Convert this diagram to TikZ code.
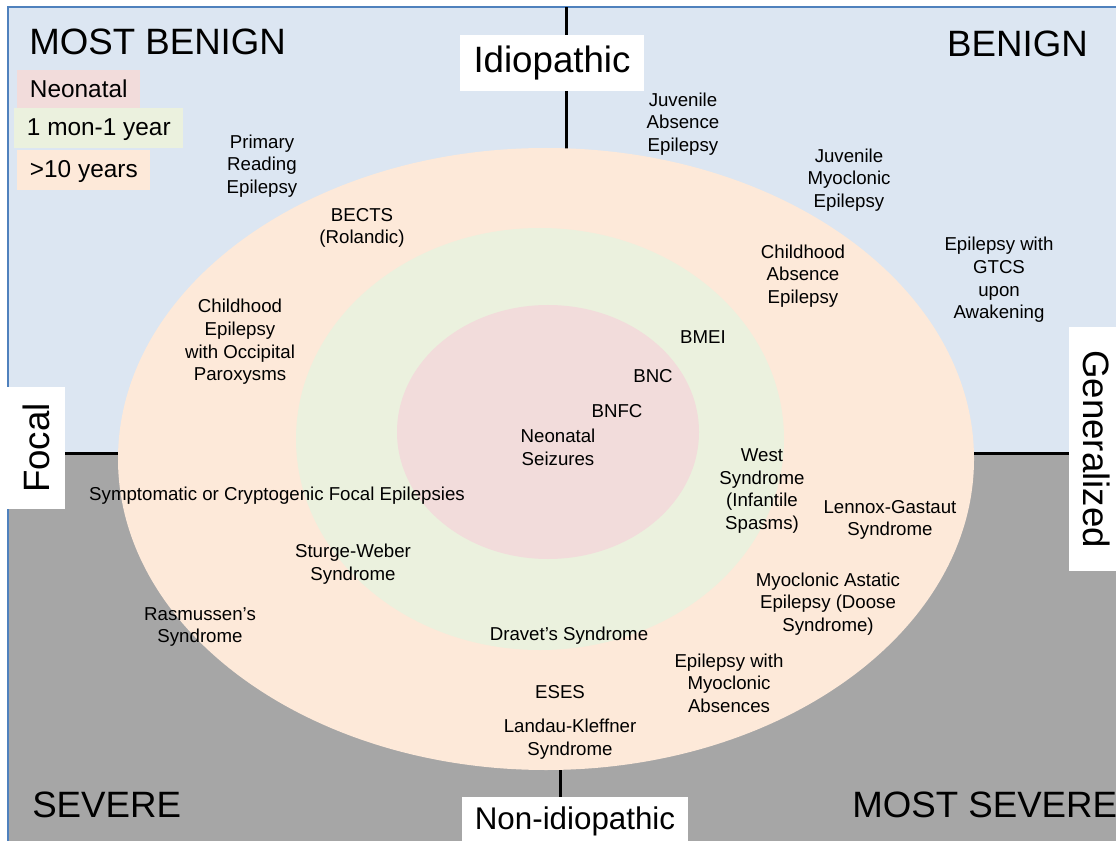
\documentclass[tikz,border=0pt]{standalone}
\usepackage{fontspec}
\setmainfont{Liberation Sans}
\usetikzlibrary{positioning}

\definecolor{benignblue}{HTML}{DCE6F2}
\definecolor{severegray}{HTML}{A6A6A6}
\definecolor{frameblue}{HTML}{4F81BD}
\definecolor{neopink}{HTML}{F2DCDB}
\definecolor{infgreen}{HTML}{EBF1DE}
\definecolor{oldpeach}{HTML}{FDE9D9}

\begin{document}
\begin{tikzpicture}[x=0.75pt,y=-0.75pt,
  bigtext/.style={font=\fontsize{27.5}{32}\selectfont,inner sep=0pt},
  axisbox/.style={bigtext,fill=white},
  agebox/.style={font=\fontsize{18.3}{22}\selectfont,anchor=north west,inner xsep=9.5pt,inner ysep=0pt,minimum height=30pt,text depth=2pt},
  syndrome/.style={font=\fontsize{14}{17}\selectfont,align=center,inner sep=0pt},
  divider/.style={line width=2.25pt,black}]
\useasboundingbox (0,0) rectangle (1116,841);

% quadrants
\fill[benignblue] (8,7) rectangle (1116,453);
\fill[severegray] (8,453) rectangle (1116,841);
\draw[frameblue,line width=1.5pt] (8,841) -- (8,7) -- (1116,7);

% axes
\coordinate (top) at (566,7);
\coordinate (mid top) at (566,200);
\coordinate (mid bottom) at (560,700);
\coordinate (bottom) at (560,841);
\coordinate (left) at (8,453);
\coordinate (right) at (1116,453);
\draw[divider] (top) -- (mid top);
\draw[divider] (mid bottom) -- (bottom);
\draw[divider] (left) -- (right);

% age rings
\fill[oldpeach] (546,459) ellipse [x radius=428, y radius=311];
\fill[infgreen] (540,439) ellipse [x radius=244, y radius=211];
\fill[neopink] (548,432) ellipse [x radius=151, y radius=127];

% corner labels
\node[bigtext,anchor=base west] (mostbenign) at (29,55) {MOST BENIGN};
\node[bigtext,anchor=base east] (benign) at (1088,57) {BENIGN};
\node[bigtext,anchor=base west] (severe) at (32,817) {SEVERE};
\node[bigtext,anchor=base west] (mostsevere) at (852,817) {MOST SEVERE};

% axis labels
\node[axisbox,minimum width=138pt,minimum height=42pt] (idio) at (552,63) {Idiopathic};
\node[axisbox,font=\fontsize{23.5}{28}\selectfont,minimum width=169pt,minimum height=36pt] (nonidio) at (575,821) {Non-idiopathic};
\node[axisbox,rotate=90,minimum width=91.5pt,minimum height=43.5pt] (focal) at (36,448) {Focal};
\node[axisbox,rotate=-90,minimum width=183pt,minimum height=42pt] (gen) at (1097,449) {Generalized};

% legend
\node[agebox,fill=neopink] (legneo) at (17,70) {Neonatal};
\node[agebox,fill=infgreen] (leginf) at (14,108) {1 mon-1 year};
\node[agebox,fill=oldpeach] (legold) at (17,150) {>10 years};

% syndromes
\node[syndrome] (pre) at (262,166) {Primary\\Reading\\Epilepsy};
\node[syndrome] (jae) at (683,124) {Juvenile\\Absence\\Epilepsy};
\node[syndrome] (jme) at (849,180) {Juvenile\\Myoclonic\\Epilepsy};
\node[syndrome] (gtcs) at (999,280) {Epilepsy with\\GTCS\\upon\\Awakening};
\node[syndrome] (bects) at (362,228) {BECTS\\(Rolandic)};
\node[syndrome] (cae) at (803,276) {Childhood\\Absence\\Epilepsy};
\node[syndrome] (ceop) at (240,342) {Childhood\\Epilepsy\\with Occipital\\Paroxysms};
\node[syndrome] (bmei) at (703,337) {BMEI};
\node[syndrome] (bnc) at (653,376) {BNC};
\node[syndrome] (bnfc) at (617,411) {BNFC};
\node[syndrome] (neo) at (558,447) {Neonatal\\Seizures};
\node[syndrome] (west) at (762,491) {West\\Syndrome\\(Infantile\\Spasms)};
\node[syndrome] (lgs) at (890,520) {Lennox-Gastaut\\Syndrome};
\node[syndrome] (focalsym) at (277,496) {Symptomatic or Cryptogenic Focal Epilepsies};
\node[syndrome] (sws) at (353,564) {Sturge-Weber\\Syndrome};
\node[syndrome] (ras) at (200,627) {Rasmussen’s\\Syndrome};
\node[syndrome] (doose) at (828,604) {Myoclonic Astatic\\Epilepsy (Doose\\Syndrome)};
\node[syndrome] (dravet) at (569,636) {Dravet’s Syndrome};
\node[syndrome] (ema) at (729,683) {Epilepsy with\\Myoclonic\\Absences};
\node[syndrome] (eses) at (560,692) {ESES};
\node[syndrome] (lks) at (570,739) {Landau-Kleffner\\Syndrome};
\end{tikzpicture}
\end{document}
